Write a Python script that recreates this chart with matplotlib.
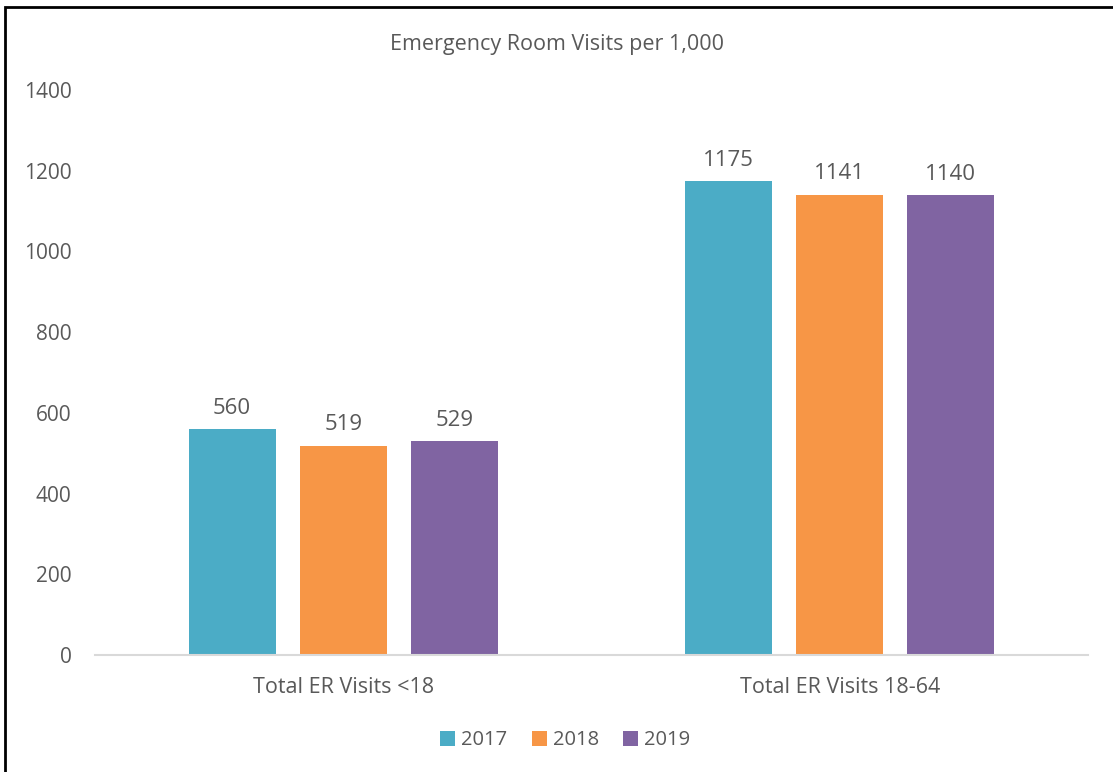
import matplotlib.pyplot as plt
import numpy as np
from matplotlib.patches import Rectangle

plt.rcParams['font.family'] = ['Open Sans', 'DejaVu Sans']

categories = ['Total ER Visits <18', 'Total ER Visits 18-64']
years = ['2017', '2018', '2019']
visits_2017 = [560, 1175]
visits_2018 = [519, 1141]
visits_2019 = [529, 1140]
colors = ['#4BACC6', '#F79646', '#8064A2']
text_color = '#595959'

fig = plt.figure(figsize=(11.13, 7.72), dpi=100)
ax = fig.add_axes([0.0854, 0.1516, 0.8921, 0.7318])

x = np.arange(len(categories))
width = 0.175
step = 0.224
series = [visits_2017, visits_2018, visits_2019]
for i, (vals, c, yr) in enumerate(zip(series, colors, years)):
    bars = ax.bar(x + (i - 1) * step, vals, width, color=c, label=yr)
    for b, v in zip(bars, vals):
        ax.text(b.get_x() + b.get_width() / 2, v + 25, str(v), ha='center', va='bottom',
                fontsize=16, color=text_color)

ax.set_xlim(-0.5, 1.5)
ax.set_ylim(0, 1400)
ax.set_yticks(range(0, 1401, 200))
ax.set_xticks(x)
ax.set_xticklabels(categories, fontsize=15.5)
ax.tick_params(axis='both', length=0, colors=text_color)
ax.tick_params(axis='y', labelsize=15, pad=17)
ax.tick_params(axis='x', pad=16)
for s in ['top', 'right', 'left']:
    ax.spines[s].set_visible(False)
ax.spines['bottom'].set_color('#D9D9D9')
ax.spines['bottom'].set_linewidth(1.5)

fig.text(0.5, 0.943, 'Emergency Room Visits per 1,000', ha='center', va='center',
         fontsize=15.5, color=text_color)

ax.legend(loc='center', bbox_to_anchor=(0.508, 0.041), bbox_transform=fig.transFigure,
          ncol=3, frameon=False, fontsize=14.5, handlelength=0.75, handleheight=0.75,
          handletextpad=0.3, columnspacing=1.2, labelcolor=text_color)

fig.patches.append(Rectangle((5 / 1113, -0.01), 1.02, 1 - 7 / 772 + 0.01,
                             transform=fig.transFigure, fill=False,
                             edgecolor='black', linewidth=2, zorder=10))

fig.savefig('out.png', dpi=100)
